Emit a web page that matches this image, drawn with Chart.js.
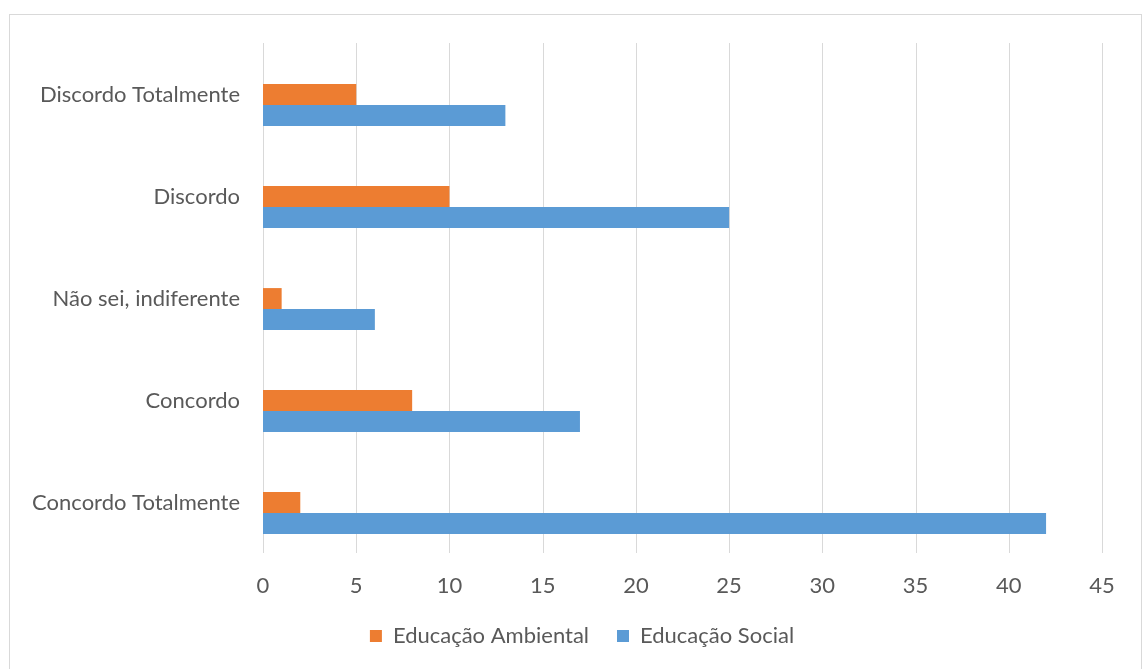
<!DOCTYPE html>
<html>
<head>
<meta charset="utf-8">
<script src="https://cdn.jsdelivr.net/npm/chart.js@4"></script>
<style>
  html, body { margin: 0; padding: 0; background: #fff; }
  .frame {
    position: absolute; left: 9px; top: 14px; width: 1133px; height: 670px;
    border: 1px solid #d9d9d9; box-sizing: border-box;
  }
  .wrap { position: absolute; left: 0; top: 0; width: 1145px; height: 669px; }
</style>
</head>
<body>
<div class="frame"></div>
<div class="wrap"><canvas id="chart" width="1145" height="669"></canvas></div>
<script>
// answers per category, top to bottom
const categories = ['Discordo Totalmente', 'Discordo', 'Não sei, indiferente', 'Concordo', 'Concordo Totalmente'];
const ambiental = [5, 10, 1, 8, 2];
const social = [13, 25, 6, 17, 42];
const xTicks = [0, 5, 10, 15, 20, 25, 30, 35, 40, 45];

const textColor = '#595959';
const gridColor = '#d9d9d9';
const font = { family: 'Lato', size: 22 };

// vertical gridlines sit a little above the category bands
const gridShift = 11;
const shiftedGrid = {
  id: 'shiftedGrid',
  beforeDatasetsDraw(chart) {
    const { ctx, chartArea, scales } = chart;
    ctx.save();
    ctx.strokeStyle = gridColor;
    ctx.lineWidth = 1;
    ctx.beginPath();
    xTicks.forEach(v => {
      const x = Math.round(scales.x.getPixelForValue(v)) + 0.5;
      ctx.moveTo(x, chartArea.top - gridShift);
      ctx.lineTo(x, chartArea.bottom - gridShift);
    });
    ctx.stroke();
    ctx.restore();
  }
};

new Chart(document.getElementById('chart'), {
  type: 'bar',
  data: {
    labels: categories,
    datasets: [
      { label: 'Educação Ambiental', data: ambiental, backgroundColor: '#ED7D31' },
      { label: 'Educação Social', data: social, backgroundColor: '#5B9BD5' }
    ]
  },
  options: {
    indexAxis: 'y',
    responsive: false,
    animation: false,
    // right padding is negative so the legend centres a bit right of the canvas middle
    layout: { padding: { top: 54, right: -19, bottom: 12, left: 0 } },
    datasets: { bar: { categoryPercentage: 0.41, barPercentage: 1 } },
    scales: {
      x: {
        min: 0, max: 45,
        afterBuildTicks: (scale) => { scale.ticks = xTicks.map(v => ({ value: v })); },
        afterFit: (scale) => { scale.height = 33; },
        grid: { display: false, drawTicks: false },
        border: { display: false },
        ticks: { color: textColor, font: font, padding: 9 }
      },
      y: {
        afterFit: (scale) => { scale.width = 263; },
        grid: { display: false, drawTicks: false },
        border: { display: false },
        ticks: { color: textColor, font: font, padding: 23, labelOffset: -10 }
      },
      // empty spacer on the right
      yRight: {
        type: 'linear', position: 'right', min: 0, max: 1,
        afterFit: (scale) => { scale.width = 62; },
        grid: { display: false, drawTicks: false },
        border: { display: false },
        ticks: { display: false }
      }
    },
    plugins: {
      legend: {
        position: 'bottom',
        labels: { color: textColor, font: font, boxWidth: 12, boxHeight: 12, padding: 28 }
      },
      tooltip: { enabled: false }
    }
  },
  plugins: [shiftedGrid]
});
</script>
</body>
</html>
